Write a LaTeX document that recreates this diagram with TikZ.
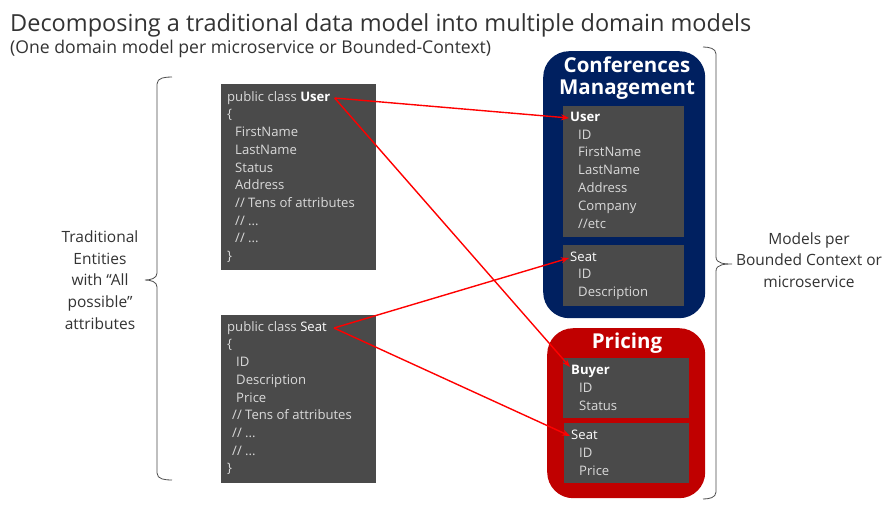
\documentclass[tikz,border=0pt]{standalone}
\usepackage{fontspec}
\setmainfont{Open Sans}
\usetikzlibrary{arrows.meta}
\definecolor{boxgray}{HTML}{4A4A4A}
\definecolor{codetxt}{HTML}{DADADA}
\definecolor{navy}{HTML}{002060}
\definecolor{darkred}{HTML}{C00000}
\definecolor{arrowred}{HTML}{FF0000}
\definecolor{titletxt}{HTML}{333333}
\tikzset{
  graybox/.style={fill=boxgray, draw=none, inner sep=0, anchor=north west},
  ctxbox/.style={draw=none, rounded corners=26pt, inner sep=0, anchor=north west},
  codeline/.style={text=codetxt, anchor=west, inner sep=0, text height=9pt, text depth=2.5pt, font=\fontsize{13.1}{15}\selectfont},
  ctxtitle/.style={text=white, inner sep=0, font=\fontsize{20.5}{24}\selectfont\bfseries},
  sidetext/.style={text=titletxt, align=center, inner sep=0, font=\fontsize{15.5}{21.7}\selectfont},
  maparrow/.style={draw=arrowred, line width=1.4pt, -{Stealth[length=8pt,width=6pt]}},
  bracepath/.style={draw=black!70, line width=0.8pt},
}
\begin{document}
\begin{tikzpicture}[x=1pt,y=-1pt]
\useasboundingbox (0,0) rectangle (890,514);
\fill[white] (0,0) rectangle (890,514);

% titles
\node[anchor=base west, inner sep=0, text=titletxt, font=\fontsize{23.5}{28}\selectfont] (title) at (10,31) {Decomposing a traditional data model into multiple domain models};
\node[anchor=base west, inner sep=0, text=titletxt, font=\fontsize{17.6}{20}\selectfont] (subtitle) at (10,53) {(One domain model per microservice or Bounded-Context)};

% traditional entities
\node[graybox, minimum width=155pt, minimum height=186pt] (userbox) at (221,84) {};
\foreach \x/\t [count=\i from 0] in {227/{public class \textbf{\color{white}User}}, 227/{\{}, 235/FirstName, 235/LastName, 235/Status, 235/Address, 235/{// Tens of attributes}, 235/{// ...}, 235/{// ...}, 227/{\}}}
  \node[codeline] (uc\i) at (\x, 98+17.7*\i) {\t};

\node[graybox, minimum width=155pt, minimum height=168pt] (seatbox) at (221,315) {};
\foreach \x/\t [count=\i from 0] in {227/{public class {\color{white}Seat}}, 227/{\{}, 236/ID, 236/Description, 236/Price, 232/{// Tens of attributes}, 232/{// ...}, 232/{// ...}, 227/{\}}}
  \node[codeline] (sc\i) at (\x, 328+17.7*\i) {\t};

% Conferences Management
\node[ctxbox, fill=navy, minimum width=162pt, minimum height=267pt] (confbox) at (543,51) {};
\node[ctxtitle] (conft1) at (627,65) {Conferences};
\node[ctxtitle] (conft2) at (627,90) {Management};
\node[graybox, minimum width=121pt, minimum height=131pt] (cuserbox) at (563,106) {};
\foreach \x/\t [count=\i from 0] in {570/{\textbf{\color{white}User}}, 578/ID, 578/FirstName, 578/LastName, 578/Address, 578/Company, 578/{//etc}}
  \node[codeline] (cu\i) at (\x, 118+17.8*\i) {\t};
\node[graybox, minimum width=121pt, minimum height=61pt] (cseatbox) at (563,245) {};
\foreach \x/\t [count=\i from 0] in {570/{\color{white}Seat}, 578/ID, 578/Description}
  \node[codeline] (cs\i) at (\x, 258+17.6*\i) {\t};

% Pricing
\node[ctxbox, fill=darkred, minimum width=158pt, minimum height=170pt] (pricebox) at (547,328) {};
\node[ctxtitle] (pricet) at (627,343) {Pricing};
\node[graybox, minimum width=126pt, minimum height=60pt] (pbuyerbox) at (563,358) {};
\foreach \x/\t [count=\i from 0] in {571/{\textbf{\color{white}Buyer}}, 579/ID, 579/Status}
  \node[codeline] (pb\i) at (\x, 371+18*\i) {\t};
\node[graybox, minimum width=125pt, minimum height=60pt] (pseatbox) at (564,423) {};
\foreach \x/\t [count=\i from 0] in {571/{\color{white}Seat}, 579/ID, 579/Price}
  \node[codeline] (ps\i) at (\x, 436+18*\i) {\t};

% arrows
\draw[maparrow] ([xshift=4pt]uc0.east) -- ([xshift=-1pt]cu0.west);
\draw[maparrow] ([xshift=4pt]uc0.east) -- ([xshift=-1pt,yshift=4pt]pb0.west);
\draw[maparrow] ([xshift=7pt]sc0.east) -- ([xshift=-1pt]cs0.west);
\draw[maparrow] ([xshift=7pt]sc0.east) -- ([xshift=-1pt]ps0.west);

% left brace
\coordinate (lbtop) at (172,77);
\coordinate (lbbot) at (172,480);
\coordinate (lbtip) at (145,280);
\draw[bracepath] (lbtop) to[out=180,in=90] (157,84) -- (157,273) to[out=270,in=0] (lbtip) to[out=0,in=90] (157,287) -- (157,473) to[out=270,in=180] (lbbot);
\node[sidetext] (lefttext) at (100,280) {Traditional\\Entities\\with “All\\possible”\\attributes};

% right brace
\coordinate (rbtop) at (703,47);
\coordinate (rbbot) at (703,499);
\coordinate (rbtip) at (732,264);
\draw[bracepath] (rbtop) to[out=0,in=90] (716,54) -- (716,257) to[out=270,in=180] (rbtip) to[out=180,in=90] (716,271) -- (716,492) to[out=270,in=0] (rbbot);
\node[sidetext] (righttext) at (809,260) {Models per\\Bounded Context or\\microservice};
\end{tikzpicture}
\end{document}
